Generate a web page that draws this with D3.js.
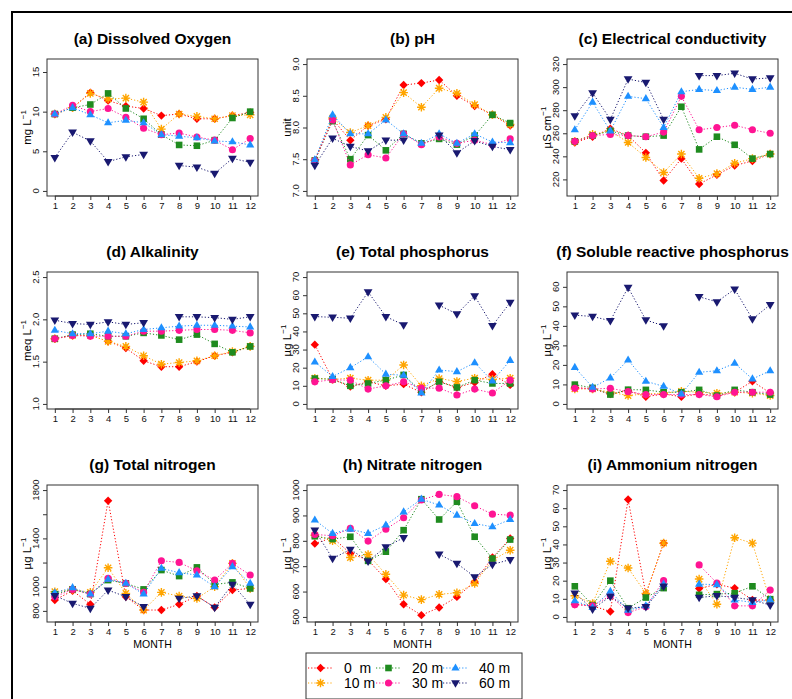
<!DOCTYPE html>
<html>
<head>
<meta charset="utf-8">
<script src="https://cdn.jsdelivr.net/npm/d3@7"></script>
<style>
  body { margin: 0; background: #fff; }
  svg { font-family: "Liberation Sans", Arial, sans-serif; display: block; }
</style>
</head>
<body>
<svg id="chart"></svg>
<script>
// months and depth series (order = drawing order)
const months = [1, 2, 3, 4, 5, 6, 7, 8, 9, 10, 11, 12];
const depths = ["0 m", "10 m", "20 m", "30 m", "40 m", "60 m"];
const depthColors = ["#ff0000", "#ffa500", "#1f8b1f", "#ff1493", "#1e90ff", "#191970"];

// one row per depth, null = not sampled
const dissolvedOxygen = [
  [9.7, 10.5, 12.4, 11.4, 10.7, 10.4, 9.5, 9.7, 9.1, 9.1, 9.5, 9.9],
  [9.7, 10.5, 12.3, 11.6, 11.7, 11.2, 7.8, 9.7, 9.4, 9.1, 9.5, 9.6],
  [9.7, 10.5, 10.9, 12.3, 10.4, 9.1, 7.1, 5.8, 5.7, 6.4, 9.2, 10.0],
  [9.7, 10.8, 10.0, 10.4, 9.3, 7.9, 7.1, 7.3, 6.8, 6.4, 5.2, 6.6],
  [9.7, 10.5, 9.6, 8.6, 8.9, 8.6, 7.1, 6.9, 6.7, 6.3, 6.2, 5.8],
  [4.2, 7.4, 6.3, 3.7, 4.3, 4.6, null, 3.2, 3.0, 2.2, 4.1, 3.6]
];
const ph = [
  [7.48, 8.13, 7.8, 8.03, 8.13, 8.67, 8.70, 8.75, 8.5, 8.34, 8.2, 8.03],
  [7.48, 8.15, 7.92, 8.03, 8.16, 8.55, 8.32, 8.62, 8.54, 8.36, 8.2, 8.05],
  [7.48, 8.1, 7.5, 7.88, 7.64, 7.9, 7.75, 7.82, 7.73, 7.87, 8.2, 8.07],
  [7.48, 8.12, 7.41, 7.57, 7.52, 7.9, 7.73, 7.85, 7.75, 7.8, 7.73, 7.82],
  [7.49, 8.2, 7.9, 7.9, 8.12, 7.9, 7.75, 7.9, 7.75, 7.9, 7.77, 7.76],
  [7.4, 7.83, 7.7, 7.63, 7.8, 7.8, null, 7.88, 7.6, 7.79, 7.7, 7.65]
];
const conductivity = [
  [252, 257, 264, 258, 243, 219, 238, 216, 224, 232, 236, 242],
  [253, 259, 262, 252, 239, 226, 242, 221, 225, 234, 238, 242],
  [253, 258, 262, 258, 257, 258, 283, 246, 257, 250, 238, 242],
  [253, 258, 259, 258, 257, 261, 292, 263, 265, 267, 263, 260],
  [263, 287, 262, 292, 290, 265, 296, 298, 297, 300, 298, 300],
  [275, 295, 272, 307, 304, 272, null, 310, 310, 312, 307, 308]
];
const alkalinity = [
  [1.77, 1.81, 1.81, 1.74, 1.66, 1.51, 1.44, 1.44, 1.5, 1.57, 1.61, 1.68],
  [1.77, 1.81, 1.81, 1.74, 1.68, 1.57, 1.47, 1.49, 1.51, 1.57, 1.62, 1.68],
  [1.77, 1.82, 1.83, 1.8, 1.8, 1.84, 1.81, 1.76, 1.82, 1.71, 1.61, 1.68],
  [1.77, 1.81, 1.8, 1.8, 1.8, 1.86, 1.86, 1.87, 1.88, 1.88, 1.87, 1.84],
  [1.87, 1.83, 1.83, 1.86, 1.83, 1.88, 1.9, 1.92, 1.93, 1.93, 1.92, 1.91],
  [1.99, 1.95, 1.94, 1.97, 1.94, 1.96, null, 2.03, 2.03, 2.02, 2.0, 2.03]
];
const totalP = [
  [32.7, 13.6, 9.6, 12.2, 10, 10.9, 6.4, 12.4, 9.1, 11.8, 16.4, 10.5],
  [14.2, 13.6, 14.2, 13.1, 13.1, 21.5, 10, 14, 12.4, 14.2, 13.5, 14.2],
  [14, 13.6, 10, 11.3, 13.1, 16, 6.9, 12.2, 9.1, 13.1, 11.3, 11.3],
  [12.2, 13.3, 13.1, 8.2, 10, 12.2, 8.7, 8.7, 4.9, 8.2, 6, 13.1],
  [23.1, 15.1, 20, 26, 16.4, 15.8, 6, 18.7, 17.8, 22.7, 12.7, 24],
  [48.2, 47.8, 47.3, 61.8, 48.2, 43.6, null, 54.5, 49.6, 59.6, 43.1, 56]
];
const solubleP = [
  [8.5, 7.7, 5.1, 6.8, 3.7, 5.1, 3.7, 5.1, 4.3, 6, 11.6, 5.6],
  [7.7, 7.7, 6, 4.3, 5.1, 5.5, 6.5, 6, 5.5, 6, 5.5, 4.3],
  [9.9, 8.2, 4.8, 7.3, 7.2, 6, 6, 7.2, 4.3, 7.2, 6, 4.8],
  [8, 7.7, 8, 6.3, 4.8, 4.8, 4.8, 4.8, 3.7, 6, 6, 6],
  [18.7, 8.5, 13.3, 22.5, 11.6, 9, 5.1, 16.2, 17, 20.8, 12.8, 17],
  [45.5, 44.8, 42.6, 59.7, 43, 40, null, 54.9, 52.3, 58.8, 43.5, 50.8]
];
const totalN = [
  [890, 967, 854, 1712, 917, 807, 807, 854, 923, 829, 972, 986],
  [959, 978, 953, 1157, 945, 807, 953, 923, 903, 1000, 1193, 986],
  [939, 978, 939, 1055, 1028, 978, 1138, 1088, 1160, 1019, 1036, 986],
  [917, 978, 939, 1069, 1028, 953, 1215, 1201, 1132, 1055, 1193, 1097],
  [950, 992, 939, 1061, 1028, 939, 1152, 1116, 1097, 1000, 1166, 1028],
  [926, 862, 821, 972, 917, 834, null, 903, 923, 829, 1019, 854]
];
const nitrateN = [
  [789, 813, 750, 724, 649, 550, 507, 537, 579, 638, 734, 809],
  [822, 800, 734, 746, 668, 586, 568, 589, 595, 632, 724, 763],
  [818, 807, 816, 721, 757, 842, 964, 884, 954, 816, 730, 805],
  [825, 820, 849, 799, 846, 891, 961, 983, 974, 938, 905, 901],
  [882, 829, 846, 829, 862, 914, 964, 941, 901, 868, 855, 884],
  [842, 730, 766, 720, 776, 812, null, 747, 711, 658, 707, 726]
];
const ammoniumN = [
  [7, 6.1, 3, 64.8, 12.6, 40.7, null, 15.7, 18, 15.9, 9.4, 9.3],
  [11.7, 7.4, 30.7, 27, 13, 40.7, null, 20.9, 7, 43.7, 40.7, 8.9],
  [16.9, 6.5, 20, 4.8, 10.7, 15.9, null, 12.2, 12.6, 13.1, 16.9, 9.8],
  [6.7, 6.1, 11.7, 2.4, 5.6, 20, null, 28.7, 18.7, 6.1, 6.1, 14.8],
  [8.9, 5.2, 14.1, 3.7, 6.1, 18.1, null, 18.1, 17.8, 9.4, 8, 9.4],
  [13.1, 4.3, 11.3, 4.8, 5.6, 16.9, null, 10.7, 11.7, 10.7, 9.4, 6.5]
];

// y tick values per panel
const doTicks = [0, 5, 10, 15];
const phTicks = [7, 7.5, 8, 8.5, 9];
const ecTicks = [220, 240, 260, 280, 300, 320];
const alkTicks = [1, 1.5, 2, 2.5];
const tpTicks = [0, 10, 20, 30, 40, 50, 60, 70];
const srpTicks = [0, 10, 20, 30, 40, 50, 60];
const tnTicks = [800, 1000, 1200, 1400, 1600, 1800];
const tnLabels = [800, 1000, 1400, 1800];
const no3Ticks = [500, 600, 700, 800, 900, 1000];
const nh4Ticks = [0, 10, 20, 30, 40, 50, 60, 70];

const panels = [
  { title: "(a) Dissolved Oxygen", unit: ["mg L", "\u22121"], values: dissolvedOxygen, ylim: [0, 16], ticks: doTicks },
  { title: "(b) pH", unit: ["unit", ""], values: ph, ylim: [7, 9], ticks: phTicks, fmt: ".1f" },
  { title: "(c) Electrical conductivity", unit: ["\u00b5S cm", "\u22121"], values: conductivity, ylim: [210, 320], ticks: ecTicks },
  { title: "(d) Alkalinity", unit: ["meq L", "\u22121"], values: alkalinity, ylim: [1, 2.5], ticks: alkTicks, fmt: ".1f" },
  { title: "(e) Total phosphorus", unit: ["\u00b5g L", "\u22121"], values: totalP, ylim: [0, 70], ticks: tpTicks },
  { title: "(f) Soluble reactive phosphorus", unit: ["\u00b5g L", "\u22121"], values: solubleP, ylim: [0, 65], ticks: srpTicks },
  { title: "(g) Total nitrogen", unit: ["\u00b5g L", "\u22121"], values: totalN, ylim: [750, 1800], ticks: tnTicks, labels: tnLabels },
  { title: "(h) Nitrate nitrogen", unit: ["\u00b5g L", "\u22121"], values: nitrateN, ylim: [500, 1000], ticks: no3Ticks },
  { title: "(i) Ammonium nitrogen", unit: ["\u00b5g L", "\u22121"], values: ammoniumN, ylim: [0, 70], ticks: nh4Ticks }
];

const width = 792;
const height = 699;
const colLeft = [47, 307, 567];
const rowTop = [59, 272, 485];
const plotW = 211;
const plotH = 137;

const svg = d3.select("#chart").attr("width", width).attr("height", height);

svg.append("rect").attr("width", width).attr("height", height).attr("fill", "#fff");

// outer frame (cropped on the right and bottom)
svg.append("path")
  .attr("d", `M12,${height} L12,12 L${width},12`)
  .attr("fill", "none")
  .attr("stroke", "#000")
  .attr("stroke-width", 2);

// marker shapes (R pch 18, 8, 15, 16, 17, 25)
function markerPath(i) {
  switch (i) {
    case 0: return "M0,-4.2L4.2,0L0,4.2L-4.2,0Z";
    case 1: return "M0,-4.3V4.3M-4.3,0H4.3M-3.1,-3.1L3.1,3.1M-3.1,3.1L3.1,-3.1";
    case 2: return "M-3.3,-3.3H3.3V3.3H-3.3Z";
    case 3: return d3.symbol(d3.symbolCircle, 40)();
    case 4: return "M0,-4.6L4.1,2.5L-4.1,2.5Z";
    default: return "M0,4.8L4.4,-2.7L-4.4,-2.7Z";
  }
}

function drawMarker(g, i, x, y) {
  const p = g.append("path")
    .attr("d", markerPath(i))
    .attr("transform", `translate(${x},${y})`);
  if (i === 1) {
    p.attr("fill", "none").attr("stroke", depthColors[i]).attr("stroke-width", 1.4);
  } else {
    p.attr("fill", depthColors[i]);
  }
}

panels.forEach((panel, k) => {
  const left = colLeft[k % 3];
  const top = rowTop[Math.floor(k / 3)];
  const bottom = top + plotH;
  const g = svg.append("g");

  const x = d3.scaleLinear()
    .domain([1 - 0.44, 12 + 0.44])
    .range([left, left + plotW]);

  const [lo, hi] = panel.ylim;
  const pad = (hi - lo) * 0.04;
  const y = d3.scaleLinear()
    .domain([lo - pad, hi + pad])
    .range([bottom, top]);

  // title
  g.append("text")
    .attr("x", left + plotW / 2)
    .attr("y", top - 15)
    .attr("text-anchor", "middle")
    .attr("font-size", 15.5)
    .attr("font-weight", "bold")
    .text(panel.title);

  // x axis
  const xAxis = g.append("g")
    .attr("transform", `translate(0,${bottom})`)
    .call(d3.axisBottom(x).tickValues(months).tickSize(4).tickPadding(2).tickSizeOuter(0));
  xAxis.select(".domain").attr("d", `M${x(1)},0H${x(12)}`).attr("stroke", "#333");
  xAxis.selectAll("line").attr("stroke", "#333");
  xAxis.selectAll("text")
    .attr("font-family", "Liberation Sans, Arial, sans-serif")
    .attr("font-size", 9.5)
    .attr("fill", "#111");

  // y axis with rotated labels
  const fmt = panel.fmt ? d3.format(panel.fmt) : d3.format("d");
  const yAxis = g.append("g")
    .attr("transform", `translate(${left},0)`)
    .call(d3.axisLeft(y).tickValues(panel.ticks).tickSize(4).tickSizeOuter(0).tickFormat(""));
  yAxis.select(".domain").remove();
  yAxis.selectAll("line").attr("stroke", "#333");

  const labelTicks = panel.labels || panel.ticks;
  g.selectAll(null)
    .data(labelTicks)
    .enter()
    .append("text")
    .attr("transform", d => `translate(${left - 8},${y(d)}) rotate(-90)`)
    .attr("text-anchor", "middle")
    .attr("font-size", 9.5)
    .attr("fill", "#111")
    .text(d => fmt(d));

  // unit label
  const unit = g.append("text")
    .attr("transform", `translate(${left - 16.5},${top + plotH / 2}) rotate(-90)`)
    .attr("text-anchor", "middle")
    .attr("font-size", 11.5)
    .text(panel.unit[0]);
  if (panel.unit[1]) {
    unit.append("tspan")
      .attr("font-size", 8)
      .attr("dy", -5)
      .text(panel.unit[1]);
  }

  // box
  g.append("rect")
    .attr("x", left)
    .attr("y", top)
    .attr("width", plotW)
    .attr("height", plotH)
    .attr("fill", "none")
    .attr("stroke", "#333")
    .attr("stroke-width", 1);

  // series: dotted line + markers, drawn depth by depth
  const line = d3.line()
    .defined(d => d[1] != null)
    .x(d => x(d[0]))
    .y(d => y(d[1]));

  panel.values.forEach((vals, i) => {
    const pts = months.map((m, j) => [m, vals[j]]);
    g.append("path")
      .attr("d", line(pts))
      .attr("fill", "none")
      .attr("stroke", depthColors[i])
      .attr("stroke-width", 1)
      .attr("stroke-dasharray", "1.2,2");
    pts.filter(d => d[1] != null).forEach(d => drawMarker(g, i, x(d[0]), y(d[1])));
  });

  // MONTH label on the bottom row
  if (k >= 6) {
    g.append("text")
      .attr("x", left + plotW / 2)
      .attr("y", bottom + 26)
      .attr("text-anchor", "middle")
      .attr("font-size", 10.5)
      .text("MONTH");
  }
});

// Legend
const legend = svg.append("g");
legend.append("rect")
  .attr("x", 306)
  .attr("y", 653)
  .attr("width", 216)
  .attr("height", 46)
  .attr("fill", "#fff")
  .attr("stroke", "#333");

const legendCols = [308, 376, 443];
const legendRows = [668, 683];
const legendTextX = [344, 412, 479];
depths.forEach((name, i) => {
  const col = Math.floor(i / 2);
  const row = i % 2;
  const x0 = legendCols[col];
  const yy = legendRows[row];
  legend.append("line")
    .attr("x1", x0).attr("x2", x0 + 25)
    .attr("y1", yy).attr("y2", yy)
    .attr("stroke", depthColors[i])
    .attr("stroke-dasharray", "1.2,2");
  drawMarker(legend, i, x0 + 12.5, yy);
  legend.append("text")
    .attr("x", legendTextX[col])
    .attr("y", yy + 5)
    .attr("font-size", 14)
    .attr("xml:space", "preserve")
    .style("white-space", "pre")
    .text(name === "0 m" ? "0  m" : name);
});
</script>
</body>
</html>
